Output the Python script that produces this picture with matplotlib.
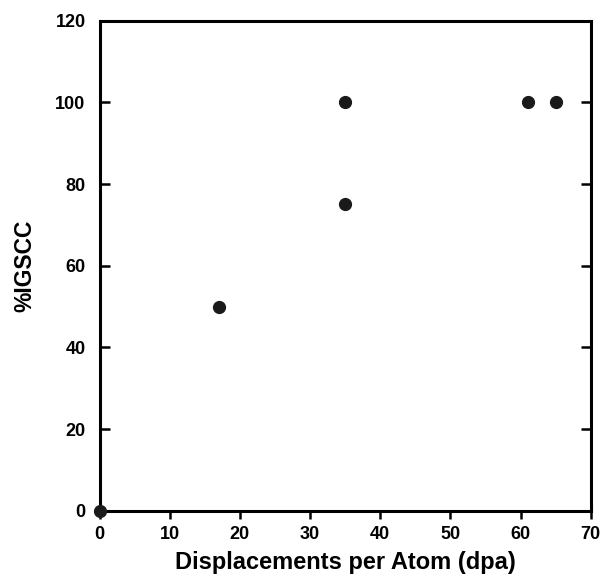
import matplotlib.pyplot as plt

plt.rcParams['font.family'] = ['Liberation Sans', 'DejaVu Sans']

dpa = [0, 17, 35, 35, 61, 65]
igscc = [0, 50, 75, 100, 100, 100]

fig = plt.figure(figsize=(6.02, 5.81), dpi=100)
ax = fig.add_axes([0.1653, 0.121, 0.816, 0.8434])

ax.plot(dpa, igscc, 'o', color='#1a1a1a', markersize=8.5, clip_on=False, zorder=5)

ax.set_xlim(0, 70)
ax.set_ylim(0, 120)
ax.set_xticks(range(0, 71, 10))
ax.set_yticks(range(0, 121, 20))

for s in ax.spines.values():
    s.set_linewidth(2.2)

ax.tick_params(axis='x', direction='out', length=6, width=1.8, labelsize=13, pad=5)
ax.tick_params(axis='y', direction='in', length=7, width=1.8, labelsize=13, right=True, pad=10)
for lab in ax.get_xticklabels() + ax.get_yticklabels():
    lab.set_fontweight('bold')

ax.set_xlabel('Displacements per Atom (dpa)', fontsize=17, fontweight='bold', labelpad=6)
ax.set_ylabel('%IGSCC', fontsize=16.5, fontweight='bold', labelpad=14)

plt.savefig('out.png', dpi=100)
